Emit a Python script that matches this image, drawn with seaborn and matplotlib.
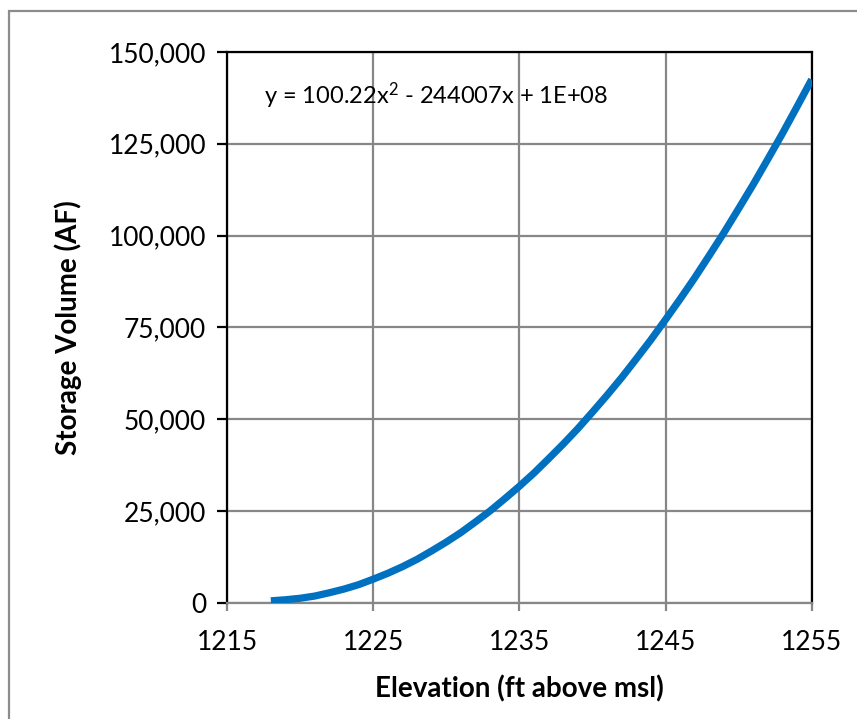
import matplotlib
matplotlib.use("Agg")
import matplotlib.pyplot as plt
from matplotlib.ticker import FuncFormatter
from matplotlib.patches import Rectangle
import seaborn as sns
import pandas as pd

# Elevation-storage table (ft above msl, acre-feet)
elevation = [1218, 1219, 1220, 1221, 1222, 1223, 1224, 1225, 1226, 1227,
             1228, 1229, 1230, 1231, 1232, 1233, 1234, 1235, 1236, 1237,
             1238, 1239, 1240, 1241, 1242, 1243, 1244, 1245, 1246, 1247,
             1248, 1249, 1250, 1251, 1252, 1253, 1254, 1255]
storage = [500, 800, 1200, 1800, 2700, 3700, 4900, 6400, 8000, 9800,
           11800, 14100, 16500, 19100, 22000, 25000, 28300, 31700, 35300, 39200,
           43200, 47400, 51900, 56500, 61300, 66400, 71600, 77100, 82700, 88500,
           94600, 100800, 107300, 113900, 120800, 127800, 135100, 142500]

x_ticks = [1215, 1225, 1235, 1245, 1255]
y_ticks = [0, 25000, 50000, 75000, 100000, 125000, 150000]
equation = r"y = 100.22x$^{2}$ - 244007x + 1E+08"

df = pd.DataFrame({"Elevation": elevation, "Storage": storage})

sns.set_theme(style="white")
plt.rcParams["font.family"] = ["Lato", "DejaVu Sans"]
plt.rcParams["mathtext.fontset"] = "custom"
plt.rcParams["mathtext.rm"] = "Lato"
plt.rcParams["mathtext.it"] = "Lato"
plt.rcParams["mathtext.default"] = "regular"

grid_grey = "#878787"

fig = plt.figure(figsize=(8.57, 7.19), dpi=100)
ax = fig.add_axes([0.2649, 0.1618, 0.9471 - 0.2649, 0.9277 - 0.1618])

sns.lineplot(data=df, x="Elevation", y="Storage", ax=ax,
             color="#0070C0", linewidth=5.2, solid_capstyle="butt", zorder=3)

ax.set_xlim(1215, 1255)
ax.set_ylim(0, 150000)
ax.set_xticks(x_ticks)
ax.set_yticks(y_ticks)
ax.yaxis.set_major_formatter(FuncFormatter(lambda v, p: f"{v:,.0f}"))

ax.grid(True, color=grid_grey, linewidth=1.6)
ax.set_axisbelow(True)

for side in ["left", "top", "right"]:
    ax.spines[side].set_color("black")
    ax.spines[side].set_linewidth(1.6)
    ax.spines[side].set_visible(True)
ax.spines["bottom"].set_color(grid_grey)
ax.spines["bottom"].set_linewidth(1.6)
ax.spines["bottom"].set_visible(True)

ax.tick_params(axis="y", direction="out", length=7, width=1.6, color="black",
               labelsize=19, pad=8, left=True, labelcolor="black")
ax.tick_params(axis="x", direction="out", length=6, width=1.6, color=grid_grey,
               labelsize=19, pad=14, bottom=True, labelcolor="black")

ax.set_xlabel("Elevation (ft above msl)", fontsize=20, fontweight="bold",
              color="black", labelpad=14)
ax.set_ylabel("Storage Volume (AF)", fontsize=20, fontweight="bold",
              color="black", labelpad=19)

ax.text(0.063, 0.92, equation, transform=ax.transAxes, fontsize=17,
        ha="left", va="center", color="black")

# Chart-area frame
frame = Rectangle((9 / 857, -0.05), 1.2, 1 - 11 / 719 + 0.05,
                  transform=fig.transFigure, fill=False,
                  edgecolor="#8c8c8c", linewidth=1.6, clip_on=False)
fig.patches.append(frame)

fig.savefig("out.png", dpi=100, facecolor="white")
